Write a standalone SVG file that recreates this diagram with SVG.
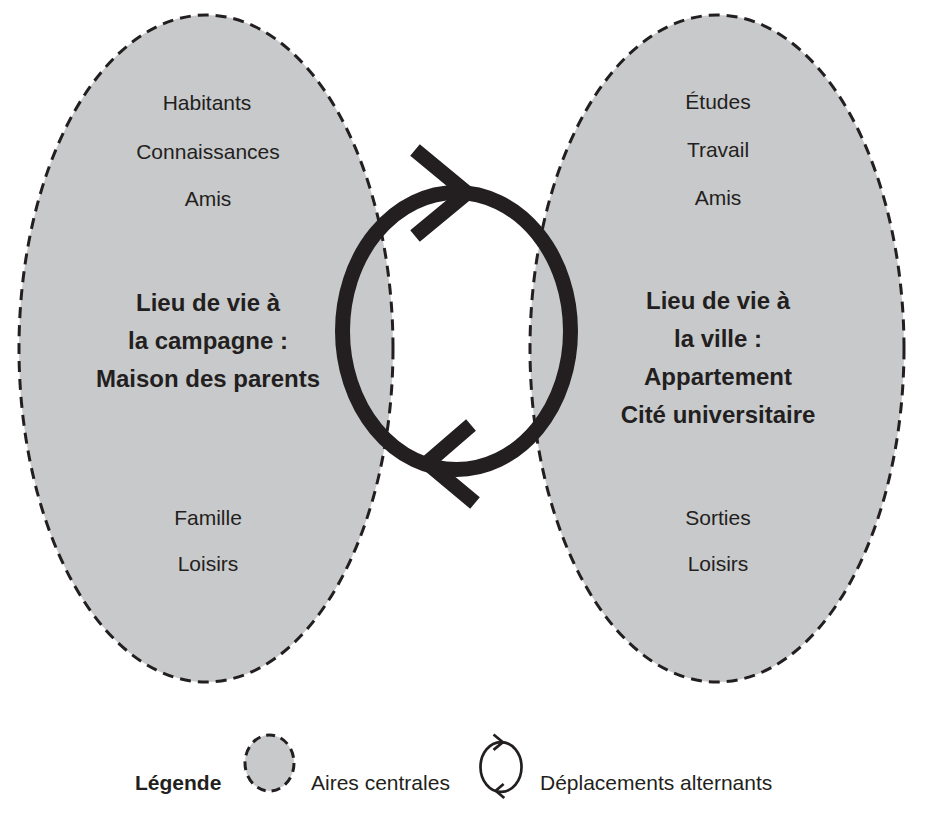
<svg xmlns="http://www.w3.org/2000/svg" xmlns:xlink="http://www.w3.org/1999/xlink" width="933" height="834" viewBox="0 0 933 834">
<style>
.area{fill:#c8c9cb;stroke:#231f20;stroke-width:3;stroke-dasharray:11 7}
.t{font-family:"Liberation Sans",Arial,sans-serif;font-size:21px;fill:#231f20;text-anchor:middle}
.b{font-family:"Liberation Sans",Arial,sans-serif;font-size:24px;font-weight:bold;fill:#231f20;text-anchor:middle}
.lg{font-family:"Liberation Sans",Arial,sans-serif;font-size:21px;fill:#231f20}
.cyc{fill:none;stroke:#231f20;stroke-width:15;stroke-linecap:butt;stroke-linejoin:miter}
</style>
<defs>
<g id="cycle">
<ellipse cx="456.5" cy="331" rx="114" ry="138.5"/>
<polyline points="415,150 467,193 415,236"/>
<polyline points="471,425 427,463 475,503"/>
</g>
</defs>
<rect width="933" height="834" fill="#fff"/>
<g id="campagne">
<ellipse class="area" cx="206" cy="348.5" rx="187" ry="333.5"/>
<text class="t" x="207" y="110">Habitants</text>
<text class="t" x="208" y="159">Connaissances</text>
<text class="t" x="208" y="206">Amis</text>
<text class="b" x="208" y="311">Lieu de vie à</text>
<text class="b" x="208" y="349">la campagne :</text>
<text class="b" x="208" y="387">Maison des parents</text>
<text class="t" x="208" y="525">Famille</text>
<text class="t" x="208" y="571">Loisirs</text>
</g>
<g id="ville">
<ellipse class="area" cx="717" cy="348.5" rx="187" ry="333.5"/>
<text class="t" x="718" y="109">Études</text>
<text class="t" x="718" y="157">Travail</text>
<text class="t" x="718" y="205">Amis</text>
<text class="b" x="718" y="309">Lieu de vie à</text>
<text class="b" x="718" y="347">la ville :</text>
<text class="b" x="718" y="385">Appartement</text>
<text class="b" x="718" y="423">Cité universitaire</text>
<text class="t" x="718" y="525">Sorties</text>
<text class="t" x="718" y="571">Loisirs</text>
</g>
<g id="connectors">
<use xlink:href="#cycle" class="cyc"/>
</g>
<g id="legende">
<text class="lg" x="135" y="790" font-weight="bold">Légende</text>
<ellipse class="area" cx="269.5" cy="763" rx="24.5" ry="28" style="stroke-dasharray:9 6"/>
<text class="lg" x="311" y="790">Aires centrales</text>
<g transform="translate(501 767) scale(0.18) translate(-456.5 -331)">
<use xlink:href="#cycle" class="cyc"/>
</g>
<text class="lg" x="540" y="790">Déplacements alternants</text>
</g>
</svg>
